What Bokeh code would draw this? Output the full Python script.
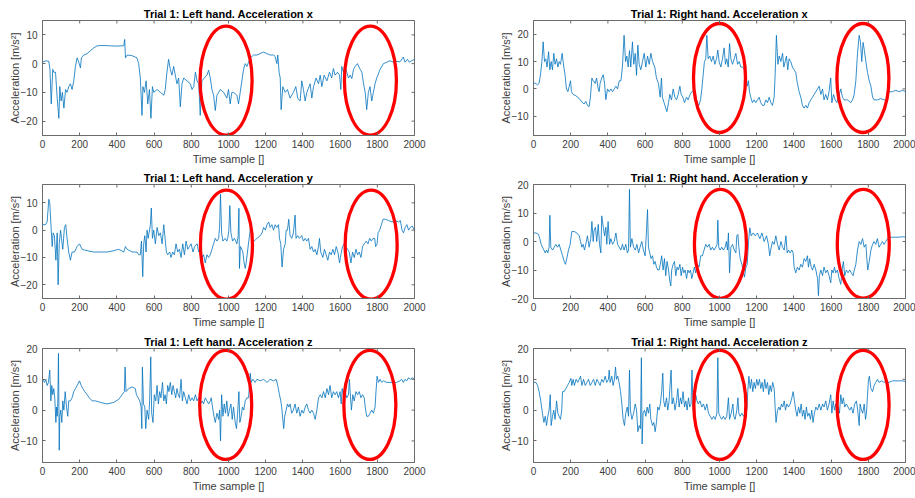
import math
from bokeh.plotting import figure
from bokeh.layouts import column, row
from bokeh.models import FixedTicker, Range1d
from bokeh.embed import file_html
from bokeh.resources import INLINE

# ---------------- data: (time sample, acceleration) ----------------
left_acc_x = [(0,0.5),(20,1),(34,0.8),(40,-2),(47,-14),(55,-2),(61,-3),(70,-3),(79,-12),(88,-19),(93,-8),(100,-13),(107,-10),(115,-15.5),(124,-9),(132,-10),(141,-8),(150,-7),(159,-9),(168,-6),(177,-1),(186,2),(195,0.5),(204,-1.5),(209,2),(222,3),(240,3.5),(258,4.5),(276,5.5),(294,6.2),(320,6.3),(360,6.2),(400,6.1),(437,6.2),(442,8.4),(446,2),(455,3),(480,2.8),(508,2),(517,0),(526,-5),(535,-18),(540,-8),(548,-10),(557,-6),(566,-14),(575,-9),(583,-19),(591,-8),(598,-10),(616,-9),(634,-10),(652,-11),(660,-9),(669,-3),(678,1.5),(687,-2),(696,-4),(705,-1),(714,-4),(723,-7),(732,-5),(741,-15),(750,-7),(759,-5),(777,-6),(795,-7),(804,-9),(813,-8),(822,-3),(831,-6),(840,-7),(848,-18),(857,-6),(870,-5),(884,-4),(893,-2.3),(902,-5),(911,-9),(920,-11),(929,-16.3),(938,-11),(947,-10),(956,-9),(974,-10),(991,-12),(1000,-9),(1009,-14),(1018,-10),(1027,-10),(1045,-11),(1054,-14),(1063,-10),(1072,-6),(1081,-2),(1090,0),(1099,-1),(1108,0.5),(1117,2),(1135,3),(1153,3),(1170,3.5),(1188,4),(1206,3.5),(1224,3),(1242,3),(1251,2.5),(1260,0),(1265,3),(1272,-3),(1278,-5),(1283,-16),(1292,-8),(1305,-10),(1317,-9),(1331,-12),(1349,-10),(1362,-8),(1372,-12),(1385,-13),(1394,-6),(1403,-9),(1412,-13),(1421,-10),(1439,-7),(1448,-12),(1457,-8),(1471,-5),(1484,-7),(1493,-4),(1502,-8),(1514,-4),(1529,-6),(1543,-3),(1555,-5),(1564,-1.7),(1573,-4),(1586,-3),(1597,-4),(1604,-9),(1609,-1),(1618,-3),(1627,-1),(1636,-3),(1645,-5),(1654,-4),(1663,-5.2),(1672,-2),(1681,-1),(1693,0),(1708,-2),(1717,-3),(1726,-7),(1735,-10),(1743,-16),(1752,-10),(1761,-8),(1770,-13),(1779,-10),(1788,-7),(1797,-5),(1815,-2),(1833,0),(1851,0.5),(1869,1),(1887,0.5),(1904,0.8),(1922,0.6),(1940,2.3),(1949,0.5),(1962,1.5),(1972,0.5),(1985,1),(2000,1.5)]

right_acc_x = [(0,2.2),(13,2),(22,1.5),(30,2),(39,6),(45,10),(52,17.2),(59,10),(66,11),(73,8),(81,13.6),(88,7),(95,10),(102,7),(109,13),(116,9),(124,11),(131,8),(138,10),(145,9),(154,13),(163,8),(170,5),(177,0),(185,-1),(192,1),(199,3),(204,-1),(213,-2),(228,-2.5),(246,-3.5),(263,-5),(272,-5.5),(281,-4.5),(290,-6),(299,-6.5),(306,-3),(314,4),(321,3),(332,2),(339,4),(348,0),(353,-1),(358,2),(367,4),(375,5.2),(382,2),(389,-3.9),(398,0),(407,-1),(416,0),(425,-1),(434,0),(443,1),(452,0),(461,3),(470,3),(478,8),(487,19.6),(495,10),(502,12),(509,8),(516,14),(523,8),(532,17.2),(539,9),(547,13),(554,5),(561,16),(568,9),(577,7),(586,10),(595,13),(604,8),(613,12),(622,9),(631,13),(640,10),(652,8),(661,4),(672,2),(681,-3),(688,4),(693,-3),(702,-5),(711,-7),(717,-8.3),(726,-5),(733,-2),(742,-4),(751,0),(760,-3),(769,-4),(778,-2),(787,1),(794,-2),(803,-3),(812,-5),(823,-3),(831,-4),(842,-2),(851,-1),(862,-1),(871,-2),(880,-5),(889,-6),(898,-4),(905,0),(912,5),(919,10),(926,11),(932,19.6),(939,11),(948,12),(957,10),(966,12),(975,9),(984,11),(991,14.2),(998,10),(1007,8),(1016,11),(1025,15),(1032,9),(1039,11),(1047,8),(1054,16.6),(1061,11),(1070,9),(1079,11),(1088,13),(1097,9),(1106,10),(1115,8),(1124,8),(1133,7),(1142,6),(1149,1),(1156,3),(1161,-1),(1168,-3),(1177,-5),(1186,-4),(1195,-5),(1204,-4),(1213,-3),(1222,-5),(1231,-6),(1240,-6),(1249,-4),(1258,-5),(1267,-3),(1276,-5),(1285,-6),(1294,-3),(1299,5),(1306,19.6),(1314,9),(1321,12),(1330,10),(1339,13),(1346,8),(1353,10),(1360,12),(1367,7),(1374,11),(1383,10),(1392,8),(1401,7),(1410,6),(1419,2),(1428,-1),(1437,-3),(1446,-6),(1455,-7),(1464,-6),(1473,-7),(1482,-5),(1491,-4),(1500,-3),(1509,-2),(1518,-1),(1527,0),(1536,1),(1545,-2),(1554,0),(1562,-4),(1571,-2),(1580,-4),(1589,-1),(1598,4),(1604,-5),(1613,-2),(1622,-4),(1631,-5),(1640,-3),(1652,0),(1661,-3),(1670,-4),(1688,-4),(1706,-5),(1715,-4),(1724,-2),(1733,3),(1742,13),(1751,19.6),(1758,17),(1765,10),(1772,17),(1779,14),(1787,10),(1796,6),(1805,3),(1814,1),(1823,-3),(1831,-4),(1849,-4),(1867,-3.5),(1885,-4),(1898,-4),(1912,-1),(1930,-1),(1948,-0.5),(1966,-1),(1984,-0.5),(2000,-1)]

left_acc_y = [(0,2),(16,2),(25,3),(34,11.3),(39,10),(47,0),(52,-6),(57,-1),(64,-2),(72,-11),(79,-1),(84,-20),(90,-5),(97,0),(102,-3),(109,-7),(118,1),(125,2),(132,-3),(141,-8),(150,-11),(159,-8),(172,-8),(186,-6),(199,-5),(213,-7),(240,-7.5),(276,-8),(311,-8),(347,-8),(383,-7.5),(410,-7),(437,-8),(446,-6),(455,-7),(482,-8),(508,-8),(517,-9),(526,-9),(532,-4),(539,-17),(544,-5),(550,-2),(557,-8),(562,0),(568,-3),(573,-1),(580,2),(585,8.1),(591,-3),(598,0),(607,-5),(616,1),(625,-2),(634,-1),(643,-5),(652,2),(659,-3),(666,-8),(673,-9),(684,-8),(691,-10),(700,-8),(709,-9),(718,-5),(727,-8),(736,-7),(745,-10),(754,-5),(763,-9),(772,-4),(781,-7),(790,-6),(799,-5),(809,-8),(818,-6),(831,-5),(840,-8),(849,-7),(858,-10),(866,-9),(875,-12),(884,-9),(893,-10),(902,-9),(911,-7),(920,-5),(929,-3),(938,-4),(947,-3),(952,1),(957,13.1),(963,-1),(970,-4),(982,-3),(991,-4),(996,-3),(1002,0),(1007,9),(1013,-1),(1022,-4),(1032,-3),(1045,-5),(1052,-2),(1056,8),(1059,-14),(1064,-6),(1072,-7),(1077,-8),(1084,-12),(1090,-14),(1095,-12),(1102,-8),(1109,-4),(1117,0),(1120,3),(1128,-4),(1138,-4),(1153,-3),(1171,-2),(1180,-1),(1189,1),(1198,0),(1207,2),(1216,3),(1224,1),(1233,2),(1242,0),(1251,2),(1260,1),(1269,2),(1274,-3),(1281,-5),(1288,-13.5),(1296,-7),(1305,-5),(1310,0),(1317,0),(1324,4),(1331,-2),(1340,-3),(1349,-1),(1358,5.5),(1363,-3),(1372,-2),(1381,-3),(1394,-2),(1403,-4),(1412,-3),(1421,-4),(1430,-3),(1439,-7),(1448,-6),(1457,-8),(1466,-7),(1475,-9),(1484,-6),(1489,-3),(1496,-8),(1507,-10),(1516,-7),(1525,-9),(1534,-11),(1543,-8),(1552,-9),(1561,-7),(1570,-9),(1579,-6),(1588,-8),(1597,-12),(1604,-9),(1613,-6),(1622,-5),(1631,-6),(1640,-7),(1649,-8),(1658,-12),(1667,-8),(1676,-10),(1685,-7),(1694,-9),(1703,-8),(1712,-10),(1721,-6),(1730,-5),(1741,-4),(1750,-5),(1759,-3),(1768,-4),(1777,-3),(1786,-3),(1791,-6),(1799,-5),(1804,-1),(1813,0),(1822,2),(1831,4),(1843,4),(1861,3.5),(1879,3),(1897,3.5),(1915,3),(1924,3.5),(1933,0),(1941,-1),(1950,1),(1959,2),(1968,0),(1977,1),(1988,1.5),(2000,0)]

right_acc_y = [(0,3),(13,3),(27,2.5),(34,1),(41,-1),(48,-2),(56,-3),(63,-4),(70,-3),(77,-4),(84,-2),(88,9.2),(93,-2),(102,-3),(111,-2),(120,-1),(129,-2),(138,-1),(147,-3),(156,-5),(165,-7),(172,-8),(179,-6),(188,-3),(197,-1),(206,3.5),(219,3.5),(233,3),(246,2),(253,0),(260,-2),(267,-1),(274,-3),(281,-1),(290,2),(299,-2),(308,1),(314,7),(321,0),(326,4),(333,5),(340,0),(348,6),(355,-1),(362,-4),(367,9),(375,5),(382,2),(389,5),(394,-1),(401,7),(409,-1),(416,1),(425,-1),(434,0),(443,3),(452,-1),(461,-2),(470,-3),(478,-1),(487,-3),(496,-1),(505,-4),(511,-3),(516,18.3),(521,-2),(529,1),(538,-2),(547,-3),(556,-1),(565,-4),(573,-2),(582,0),(591,-3),(600,-5),(607,3),(613,11.2),(618,-2),(625,-4),(632,-6),(640,-5),(647,-8),(654,-7),(661,-9),(668,-10),(675,-10),(682,-8),(689,-5),(697,-10),(704,-6),(711,-12),(718,-7),(726,-10),(733,-14),(738,-15.6),(743,-10),(751,-8),(758,-7),(765,-12),(772,-9),(779,-10),(787,-8),(794,-12),(801,-9),(808,-11),(815,-10),(823,-13),(830,-10),(837,-11),(844,-10),(851,-13),(858,-11),(865,-9),(872,-11),(881,-8),(890,-9),(899,-5),(908,-5),(917,-3),(926,-1),(935,-2),(944,-1),(953,-3),(962,-2),(971,-3),(980,-2),(987,-1),(991,7.5),(996,-2),(1003,-3),(1012,-2),(1021,-3),(1030,-2),(1037,0),(1043,-3),(1048,3),(1054,-11),(1061,-2),(1070,-1),(1079,-3),(1088,-4),(1093,2),(1099,2.5),(1104,-2),(1111,-6),(1120,-8),(1127,-10),(1134,-12.5),(1142,-9),(1149,-8),(1156,0),(1163,4.8),(1170,2),(1181,3),(1192,2),(1204,3),(1217,1),(1228,3),(1240,0),(1253,2),(1263,-1),(1270,-5),(1278,-2),(1285,0),(1294,-1),(1303,2),(1312,-1),(1321,-3),(1330,0),(1339,-2),(1348,-3),(1357,2),(1364,-4),(1371,-3),(1380,-4),(1389,-3),(1396,-4),(1401,-9),(1410,-11),(1419,-9),(1428,-10),(1437,-8),(1446,-9),(1455,-6),(1464,-7),(1473,-5),(1478,-9),(1485,-6),(1493,-9),(1500,-10),(1509,-8),(1518,-10),(1527,-13),(1532,-19),(1537,-12),(1545,-10),(1554,-12),(1562,-9),(1571,-11),(1580,-10),(1589,-12),(1598,-14.5),(1604,-10),(1611,-11),(1618,-9),(1625,-11),(1634,-10),(1643,-13),(1652,-15),(1661,-9),(1666,-7),(1673,-12),(1682,-10),(1691,-11),(1700,-10),(1709,-11),(1718,-12),(1725,-10),(1733,-8),(1742,-3),(1751,0),(1760,-1),(1769,1),(1778,-2),(1787,-1),(1792,-6),(1797,-10),(1805,-7),(1814,-3),(1823,-1),(1831,0),(1840,-1),(1849,1),(1858,-2),(1867,-1),(1876,0),(1885,-1),(1894,0),(1903,1),(1912,1.5),(1930,1.5),(1948,1.5),(1966,1.5),(1984,1.7),(2000,1.5)]

left_acc_z = [(0,10),(11,9),(18,10),(25,8),(32,9),(39,13),(45,3),(50,8),(55,5),(61,7),(66,4),(72,-4),(75,1),(79,-2),(82,2),(86,18.4),(90,-13),(93,-2),(98,0),(104,-4),(109,3),(115,0),(122,6),(129,1),(136,-2),(141,3),(150,3),(159,4),(168,6),(177,7),(186,8),(199,9.5),(208,8),(217,7),(227,6),(240,5),(252,4),(267,3),(285,3),(311,2.5),(347,2),(383,2.5),(410,3.5),(428,5),(440,6),(444,14),(449,6),(463,7),(482,7.5),(499,7),(505,5),(514,4),(523,3),(530,1),(534,-6),(537,14),(543,2),(550,1),(555,-6),(562,0),(571,-3),(576,3),(582,17.3),(587,-1),(594,-4),(601,5),(609,3),(616,8),(623,2),(630,6),(637,4),(645,9),(652,3),(659,5),(666,2),(673,8),(680,6),(687,9),(695,5),(702,8),(709,6),(716,4),(723,7),(730,5),(737,4),(745,10),(752,3),(759,6),(768,4),(777,2),(786,5),(795,3),(804,4),(813,3),(822,5),(831,3),(840,4),(849,2),(858,3),(866,2),(875,4),(884,3),(893,2),(902,3),(907,4),(914,1),(922,-2),(929,-4),(938,-1),(947,-3),(952,0),(957,-10),(963,5),(970,-2),(977,2),(984,-1),(991,3),(998,-2),(1005,0),(1013,2),(1020,-3),(1027,1),(1036,-4),(1043,-6),(1050,0),(1056,6),(1061,-4),(1068,-2),(1075,1),(1082,0),(1090,3),(1099,4),(1108,4),(1117,12),(1122,9),(1131,10),(1143,9),(1153,10),(1171,9.5),(1189,10),(1207,9),(1224,10),(1242,9.5),(1256,10),(1265,8),(1274,5),(1281,3),(1286,1),(1292,-3),(1297,-6),(1302,-2),(1310,0),(1317,2),(1324,1),(1331,2),(1340,-1),(1349,0),(1358,2),(1367,-1),(1376,1),(1385,-2),(1394,0),(1403,-1),(1412,1),(1421,2),(1430,0),(1439,-1),(1448,0),(1457,-1),(1466,-3),(1475,0),(1484,4),(1493,5),(1502,4),(1511,6),(1520,4),(1529,7),(1538,5),(1546,8),(1555,4),(1564,6),(1573,5),(1582,6),(1591,4),(1600,6),(1606,2),(1611,7),(1618,5),(1627,6),(1636,4),(1645,5),(1650,10),(1656,4),(1661,0),(1668,5),(1676,3),(1685,6),(1694,5),(1703,6),(1712,4),(1721,5),(1730,4),(1735,1),(1743,-2),(1752,-2),(1761,-1),(1770,0),(1779,-1),(1788,1),(1793,6),(1799,11),(1806,9),(1815,10),(1824,9),(1833,9.5),(1851,9),(1869,9),(1887,9),(1904,9),(1922,9.5),(1931,10),(1940,9),(1949,10),(1958,9.5),(1968,10.5),(1977,10),(1988,10.5),(2000,10)]

right_acc_z = [(0,9),(13,9),(22,8),(30,6),(39,3),(48,-1),(56,-4),(63,-2),(70,-5),(77,-2),(84,0),(90,5),(95,-5),(102,-2),(109,0),(116,-3),(124,3),(131,-1),(138,-2),(145,-3),(152,0),(156,6),(165,6),(174,7),(183,8),(192,9),(201,10.3),(206,8),(213,10),(220,8),(229,10),(238,9),(246,10),(253,11),(260,8),(269,10),(278,8),(287,9),(296,10),(305,8),(314,9),(323,10),(332,8),(341,10),(350,9),(358,8),(367,10),(376,9),(385,11),(394,9),(403,10),(407,13),(412,9),(421,11),(428,8),(435,10),(441,14),(446,10),(453,11),(460,9),(468,6),(475,2),(482,-3),(489,-5),(496,-1),(504,1),(511,-2),(516,13),(521,0),(529,-3),(538,-1),(547,2),(554,0),(561,-7),(568,-5),(575,-6),(580,17),(584,-11),(589,-1),(597,0),(604,-2),(611,1),(618,-1),(625,2),(631,-3),(640,-5),(647,-4),(654,-7),(661,-4),(668,1),(675,0),(682,2),(689,6),(695,12),(700,3),(707,1),(715,4),(722,0),(729,3),(734,8),(740,13),(745,2),(752,4),(761,0),(769,3),(776,7),(783,1),(790,4),(797,2),(804,6),(812,1),(819,3),(826,0),(833,4),(840,1),(847,2),(852,13),(858,0),(865,2),(872,5),(879,3),(886,2),(895,3),(905,1),(914,2),(923,0),(932,2),(941,-1),(950,-2),(959,-3),(968,-2),(977,-3),(986,-1),(991,17),(996,-1),(1003,-2),(1012,-3),(1021,-2),(1030,-3),(1039,-2),(1048,4),(1054,-3),(1063,-1),(1072,2),(1077,-2),(1084,-3),(1093,0),(1099,4),(1104,-1),(1111,-2),(1120,-1),(1129,-2),(1138,-1),(1147,0),(1152,6),(1158,11),(1165,7),(1172,10),(1179,6),(1186,9),(1193,7),(1200,10),(1207,8),(1215,10),(1222,7),(1229,9),(1236,6),(1243,10),(1250,7),(1258,9),(1265,5),(1272,8),(1279,6),(1286,9),(1294,7),(1299,1),(1304,-4),(1312,0),(1319,1),(1326,0),(1333,2),(1340,1),(1348,3),(1355,0),(1362,2),(1371,1),(1380,2),(1389,4),(1396,6),(1403,3),(1410,0),(1417,-2),(1425,1),(1432,-1),(1439,2),(1446,-2),(1453,0),(1460,-3),(1467,1),(1474,-2),(1482,-1),(1489,-3),(1496,0),(1503,-4),(1510,-1),(1518,1),(1527,0),(1536,2),(1545,0),(1554,2),(1562,1),(1571,3),(1580,0),(1589,2),(1598,5),(1604,-1),(1611,3),(1618,0),(1625,2),(1631,-2),(1638,1),(1645,-1),(1652,5),(1659,2),(1666,4),(1673,1),(1682,2),(1691,1),(1700,0),(1709,1),(1718,-1),(1727,2),(1736,3),(1743,0),(1751,-5),(1756,2),(1763,0),(1770,-1),(1778,2),(1785,-3),(1790,-1),(1795,4),(1801,10),(1806,11),(1814,7),(1823,6),(1831,8),(1840,9),(1849,10),(1858,9),(1872,9.5),(1885,9),(1894,9.5),(1903,9),(1912,9),(1930,9.5),(1948,9.5),(1966,9.5),(1984,9.5),(2000,9.3)]

titles = ["Trial 1: Left hand. Acceleration x", "Trial 1: Right hand. Acceleration x",
          "Trial 1: Left hand. Acceleration y", "Trial 1: Right hand. Acceleration y",
          "Trial 1: Left hand. Acceleration z", "Trial 1: Right hand. Acceleration z"]
y_limits = [(-25, 15), (-17, 25), (-25, 16.7), (-20, 20), (-17, 20), (-17, 20)]
y_ticks = [[-20, -10, 0, 10], [-10, 0, 10, 20], [-20, -10, 0, 10], [-20, -10, 0, 10, 20],
           [-10, 0, 10, 20], [-10, 0, 10, 20]]
x_ticks = [0, 200, 400, 600, 800, 1000, 1200, 1400, 1600, 1800, 2000]
x_limits = (0, 2000)
# highlighted regions (centre sample, centre acceleration) per panel
highlight_centres = [[(987, -5.9), (1763, -5.9)], [(1000, 4.0), (1771, 4.0)],
                     [(989, -5.3), (1767, -5.3)], [(1005, -0.8), (1773, -0.8)],
                     [(985, 1.7), (1760, 1.7)], [(1002, 1.7), (1772, 1.7)]]
series = [left_acc_x, right_acc_x, left_acc_y, right_acc_y, left_acc_z, right_acc_z]

FONT = "Liberation Sans"
AXC = "#6b6b6b"
TXC = "#3c3c3c"

# figure geometry: (width, left, right) per column; (height, top, bottom) per row
col_geo = [(460, 42, 46), (455, 73, 10)]
row_geo = [(167, 20, 31), (165, 17, 34), (166, 15, 36)]


def make_panel(i):
    w, bl, br = col_geo[i % 2]
    h, bt, bb = row_geo[i // 2]
    y0, y1 = y_limits[i]
    p = figure(width=w, height=h, output_backend="svg", toolbar_location=None,
               x_range=Range1d(*x_limits), y_range=Range1d(y0, y1),
               min_border_left=bl, min_border_right=br, min_border_top=bt, min_border_bottom=bb,
               title=titles[i])
    p.title.align = "center"
    p.title.text_font = FONT
    p.title.text_font_size = "11px"
    p.title.text_font_style = "bold"
    p.title.text_color = "#000000"
    p.title.standoff = 2
    p.xgrid.visible = False
    p.ygrid.visible = False
    p.outline_line_color = AXC
    p.outline_line_width = 1
    p.background_fill_color = "white"
    p.border_fill_color = "white"

    t, a = zip(*series[i])
    p.line(list(t), list(a), line_color="#0072BD", line_width=0.8)

    ex, ey = zip(*highlight_centres[i])
    p.ellipse(x=list(ex), y=list(ey), width=52, height=109,
              width_units="screen", height_units="screen",
              fill_color=None, line_color="#FF0000", line_width=3.3)

    # mirrored inward tick marks on the top and right edges of the box
    p.scatter(x=x_ticks, y=[y1] * len(x_ticks), marker="dash", size=6, angle=math.pi / 2,
              line_color=AXC, line_width=1)
    p.scatter(x=[x_limits[1]] * len(y_ticks[i]), y=y_ticks[i], marker="dash", size=6,
              line_color=AXC, line_width=1)

    p.xaxis.ticker = FixedTicker(ticks=x_ticks)
    p.yaxis.ticker = FixedTicker(ticks=y_ticks[i])
    p.xaxis.axis_label = "Time sample []"
    p.yaxis.axis_label = "Acceleration [m/s²]"
    for ax in (p.xaxis[0], p.yaxis[0]):
        ax.major_tick_in = 3
        ax.major_tick_out = 0
        ax.minor_tick_in = 0
        ax.minor_tick_out = 0
        ax.axis_line_color = AXC
        ax.major_tick_line_color = AXC
        ax.major_label_text_font = FONT
        ax.major_label_text_font_size = "10px"
        ax.major_label_text_color = TXC
        ax.axis_label_text_font = FONT
        ax.axis_label_text_font_size = "11px"
        ax.axis_label_text_font_style = "normal"
        ax.axis_label_text_color = TXC
    p.xaxis.major_label_standoff = 4
    p.xaxis.axis_label_standoff = 2
    p.yaxis.major_label_standoff = 5
    p.yaxis.axis_label_standoff = -3
    return p


panels = [make_panel(i) for i in range(6)]
layout = column(row(panels[0], panels[1]), row(panels[2], panels[3]), row(panels[4], panels[5]))

open("out.html", "w").write(file_html(layout, INLINE))
